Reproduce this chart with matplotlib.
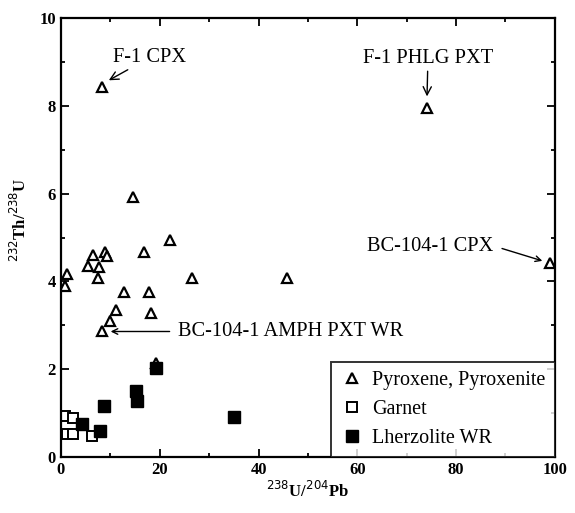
import numpy as np
import matplotlib
matplotlib.use("Agg")
import matplotlib.pyplot as plt
from matplotlib.ticker import MultipleLocator

plt.rcParams['font.family'] = ['Liberation Serif', 'DejaVu Serif']

# Pyroxene, Pyroxenite (open triangles)
pyx_x = [22.1, 8.9, 6.5, 9.3, 16.8, 5.5, 7.7, 7.5, 1.2, 0.8, 12.8, 17.8, 11.1,
         18.2, 9.9, 8.3, 26.5, 45.7, 14.6, 8.3, 74.1, 99.0, 19.2]
pyx_y = [4.95, 4.68, 4.61, 4.57, 4.66, 4.36, 4.32, 4.07, 4.16, 3.9, 3.75, 3.75, 3.34,
         3.27, 3.09, 2.86, 4.07, 4.07, 5.93, 8.43, 7.95, 4.43, 2.15]

# Garnet (open squares)
grt_x = [0.8, 2.4, 1.2, 2.4, 6.3]
grt_y = [0.93, 0.9, 0.52, 0.52, 0.48]

# Lherzolite WR (filled squares)
lhz_x = [19.2, 15.2, 15.4, 8.7, 4.2, 7.9, 35.0]
lhz_y = [2.02, 1.5, 1.27, 1.16, 0.75, 0.59, 0.91]

fig = plt.figure(figsize=(5.75, 5.13), dpi=100)
ax = fig.add_axes([0.106, 0.109, 0.859, 0.856])

ax.plot(pyx_x, pyx_y, '^', mfc='white', mec='black', mew=1.6, ms=7,
        ls='none', label='Pyroxene, Pyroxenite')
ax.plot(grt_x, grt_y, 's', mfc='white', mec='black', mew=1.4, ms=7,
        ls='none', label='Garnet')
ax.plot(lhz_x, lhz_y, 's', mfc='black', mec='black', ms=8,
        ls='none', label='Lherzolite WR')

ax.set_xlim(0, 100)
ax.set_ylim(0, 10)
ax.xaxis.set_major_locator(MultipleLocator(20))
ax.xaxis.set_minor_locator(MultipleLocator(10))
ax.yaxis.set_major_locator(MultipleLocator(2))
ax.yaxis.set_minor_locator(MultipleLocator(1))
ax.tick_params(which='both', direction='in', top=True, right=True, width=1.3)
ax.tick_params(which='major', length=6, labelsize=12)
ax.tick_params(which='minor', length=3)
for lab in ax.get_xticklabels() + ax.get_yticklabels():
    lab.set_fontweight('bold')
for s in ax.spines.values():
    s.set_linewidth(1.6)

ax.set_xlabel(r'$^{238}$U/$^{204}$Pb', fontsize=12, fontweight='bold', labelpad=2)
ax.set_ylabel(r'$^{232}$Th/$^{238}$U', fontsize=12, fontweight='bold')
ax.yaxis.set_label_coords(-0.062, 0.54)

fs = 14.7
arrow = dict(arrowstyle='->', color='black', lw=1.0, shrinkA=0, shrinkB=2)
ax.annotate('F-1 CPX', xy=(9.2, 8.55), xytext=(10.6, 9.1), fontsize=fs,
            arrowprops=arrow, va='center', ha='left')
ax.annotate('F-1 PHLG PXT', xy=(74.1, 8.15), xytext=(74.3, 8.85), fontsize=fs,
            arrowprops=arrow, va='bottom', ha='center')
ax.annotate('', xy=(98.0, 4.45), xytext=(89.3, 4.75), arrowprops=arrow)
ax.text(62.0, 4.8, 'BC-104-1 CPX', fontsize=fs, va='center', ha='left')
ax.annotate('', xy=(9.5, 2.86), xytext=(22.0, 2.86), arrowprops=arrow)
ax.text(23.7, 2.86, 'BC-104-1 AMPH PXT WR', fontsize=fs, va='center', ha='left')

leg = ax.legend(loc='lower right', fontsize=14.5, frameon=True, fancybox=False,
                edgecolor='black', borderaxespad=0, handletextpad=0.4,
                handlelength=1.2, labelspacing=0.5, borderpad=0.45)
leg.get_frame().set_linewidth(1.4)

fig.savefig('out.png', dpi=100)
